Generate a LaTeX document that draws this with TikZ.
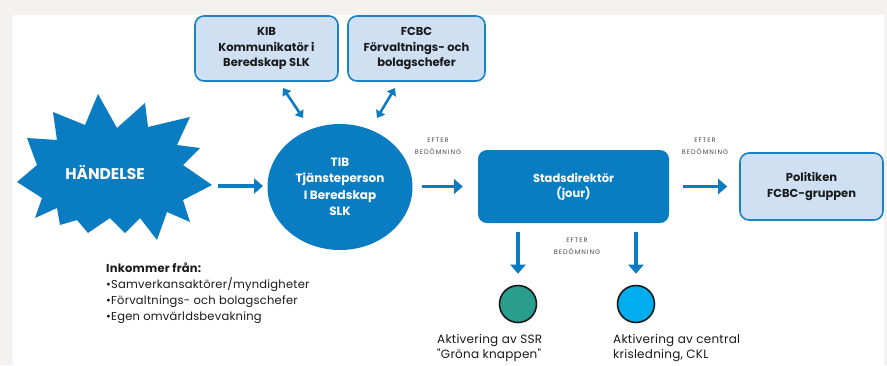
\documentclass[tikz,border=0pt]{standalone}
\usepackage{fontspec}
\setmainfont{Poppins}
\newfontfamily\tinyspaced[LetterSpace=15]{Poppins}
\newfontfamily\bodyspaced[LetterSpace=2]{Poppins}
\usetikzlibrary{arrows.meta,shapes.geometric}
\definecolor{bg}{HTML}{F3F2EE}
\definecolor{mainblue}{HTML}{0A7CC1}
\definecolor{lightfill}{HTML}{CFE0F3}
\definecolor{edgeblue}{HTML}{1A82C4}
\definecolor{teal}{HTML}{2A9D8F}
\definecolor{cyanc}{HTML}{00AEEF}
\definecolor{txt}{HTML}{1A1A1A}
\tikzset{
  lightbox/.style={draw=edgeblue, line width=1.6pt, fill=lightfill, rounded corners=9pt,
    minimum width=#1, align=center, text=txt, font=\bfseries\fontsize{11.5}{15.5}\selectfont},
  darkbox/.style={fill=mainblue, rounded corners=9pt, align=center, text=white,
    font=\bfseries\fontsize{11.5}{15}\selectfont},
  arr/.style={draw=mainblue, line width=3.5pt, -{Triangle[length=9pt,width=15pt]}},
  darr/.style={draw=mainblue, line width=2.5pt, {Triangle[length=7pt,width=10pt]}-{Triangle[length=7pt,width=10pt]}},
  small/.style={align=center, text=txt!80, font=\tinyspaced\fontsize{6.5}{11.5}\selectfont},
  dot/.style={circle, draw=txt, line width=1.6pt, minimum size=37pt, inner sep=0pt},
  plain/.style={align=left, text=txt, font=\bodyspaced\fontsize{12}{15.5}\selectfont, anchor=north west, inner sep=0pt},
}
\begin{document}
\begin{tikzpicture}[x=1pt,y=-1pt]
\useasboundingbox (0,0) rectangle (887,365);
\fill[bg] (0,0) rectangle (887,365);
\fill[white] (13,15) rectangle (884,365);
% starburst
\fill[mainblue] (98,94) -- (117,128) -- (145,103) -- (148,127) -- (190,117) -- (177,145) -- (200,148)
  -- (183,165) -- (212,185) -- (183,200) -- (190,222) -- (167,212) -- (157,240) -- (140,218)
  -- (125,233) -- (110,218) -- (88,233) -- (77,220) -- (60,225) -- (57,208) -- (35,218)
  -- (42,198) -- (17,182) -- (37,165) -- (27,138) -- (57,140) -- (53,112) -- (85,125) -- cycle;
\node[text=white, font=\bfseries\fontsize{15.5}{18}\selectfont] (hand) at (105,172) {HÄNDELSE};
% top boxes
\node[lightbox=143pt, minimum height=65pt] (kib) at (266.5,48.5) {KIB\\Kommunikatör i\\Beredskap SLK};
\node[lightbox=137pt, minimum height=65pt] (fcbc) at (416.5,48.5) {FCBC\\Förvaltnings- och\\bolagschefer};
% TIB
\node[ellipse, fill=mainblue, minimum width=145pt, minimum height=126pt, align=center, text=white,
  font=\bfseries\fontsize{12}{16.5}\selectfont, inner sep=0pt] (tib) at (340,187) {TIB\\Tjänsteperson\\I Beredskap\\SLK};
% Stadsdirektör
\node[darkbox, minimum width=191pt, minimum height=73pt] (stad) at (573.5,186.5) {Stadsdirektör\\(jour)};
% Politiken
\node[lightbox=143pt, minimum height=67pt] (pol) at (811.5,186.5) {Politiken\\FCBC-gruppen};
% circles
\node[dot, fill=teal] (ssr) at (518,304) {};
\node[dot, fill=cyanc] (ckl) at (636,304) {};
% arrows
\coordinate (h1) at (218,186);
\coordinate (h2) at (263,186);
\draw[arr] (h1) -- (h2);
\draw[arr, shorten <=9pt, shorten >=15pt] (tib.east |- stad.west) -- (stad.west);
\draw[arr, shorten <=14pt, shorten >=12pt] (stad.east) -- (pol.west);
\draw[arr, shorten <=9pt, shorten >=11pt] (stad.south -| ssr.north) -- (ssr.north);
\draw[arr, shorten <=9pt, shorten >=11pt] (stad.south -| ckl.north) -- (ckl.north);
\coordinate (k1) at (283,88);
\coordinate (k2) at (303,118);
\coordinate (f1) at (395,88);
\coordinate (f2) at (377,118);
\draw[darr] (k1) -- (k2);
\draw[darr] (f1) -- (f2);
% labels
\node[small] (l1) at (438,146) {EFTER\\BEDÖMNING};
\node[small] (l2) at (705,146) {EFTER\\BEDÖMNING};
\node[small] (l3) at (577,246) {EFTER\\BEDÖMNING};
% texts
\node[plain, font=\bodyspaced\fontsize{11.5}{16}\selectfont] (ink) at (106,263) {\textbf{Inkommer från:}\\•Samverkansaktörer/myndigheter\\•Förvaltnings- och bolagschefer\\•Egen omvärldsbevakning};
\node[plain] (t1) at (437,334) {Aktivering av SSR\\"Gröna knappen"};
\node[plain] (t2) at (613,334) {Aktivering av central\\krisledning, CKL};
\end{tikzpicture}
\end{document}
